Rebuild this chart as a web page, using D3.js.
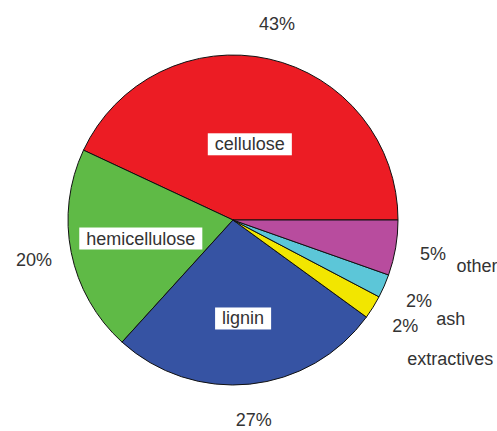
<!DOCTYPE html>
<html>
<head>
<meta charset="utf-8">
<script src="https://cdn.jsdelivr.net/npm/d3@7"></script>
<style>
  body { margin: 0; background: #fff; }
  svg { display: block; }
  text { font-family: "Liberation Sans", Arial, sans-serif; font-size: 18px; fill: #333; }
</style>
</head>
<body>
<svg id="chart" width="497" height="431"></svg>
<script>
// Datos del gráfico (composición en %)
const categorias = ["cellulose", "hemicellulose", "lignin", "extractives", "ash", "other"];
const valores = [43, 20.2, 26.7, 2.3, 2.3, 5.4];
const colores = ["#ec1c24", "#5fba46", "#3653a3", "#f2e600", "#5cc6d8", "#b84c9e"];

const width = 497, height = 431;
const R = 165;
const cx = 233, cy = 220;
const svg = d3.select("#chart");

const g = svg.append("g").attr("transform", `translate(${cx},${cy})`);

// Empieza a las 3 en punto y gira en sentido antihorario
const pie = d3.pie()
    .sort(null)
    .startAngle(Math.PI / 2)
    .endAngle(Math.PI / 2 - 2 * Math.PI);

const datos = categorias.map((c, i) => ({ nombre: c, valor: valores[i], color: colores[i] }));
const arcos = pie.value(d => d.valor)(datos);
const total = d3.sum(valores);

const arc = d3.arc().innerRadius(0).outerRadius(R);

g.selectAll("path.slice")
    .data(arcos)
    .join("path")
    .attr("class", "slice")
    .attr("d", arc)
    .attr("fill", d => d.data.color)
    .attr("stroke", "#111")
    .attr("stroke-width", 1);

// punto en el radio r sobre el ángulo medio del sector
function punto(d, r) {
    const a = (d.startAngle + d.endAngle) / 2;
    return [r * Math.sin(a), -r * Math.cos(a)];
}

// Etiquetas de porcentaje por fuera
g.selectAll("text.pct")
    .data(arcos)
    .join("text")
    .attr("class", "pct")
    .attr("text-anchor", "middle")
    .attr("dominant-baseline", "central")
    .attr("x", d => punto(d, 1.23 * R)[0])
    .attr("y", d => punto(d, 1.22 * R)[1])
    .text(d => Math.round(d.data.valor / total * 100) + "%");

// Nombres: los sectores grandes dentro con caja blanca, los pequeños fuera
const radioNombre = { cellulose: 0.47, hemicellulose: 0.57, lignin: 0.6, extractives: 1.55, ash: 1.44, other: 1.5 };
const grandes = arcos.filter(d => radioNombre[d.data.nombre] < 1);
const chicos = arcos.filter(d => radioNombre[d.data.nombre] >= 1);

const etiquetas = g.selectAll("g.nombre")
    .data(grandes)
    .join("g")
    .attr("class", "nombre")
    .attr("transform", d => `translate(${punto(d, radioNombre[d.data.nombre] * R)})`);

etiquetas.append("text")
    .attr("text-anchor", "middle")
    .attr("dominant-baseline", "central")
    .text(d => d.data.nombre);

etiquetas.each(function() {
    const t = d3.select(this).select("text");
    const b = t.node().getBBox();
    d3.select(this).insert("rect", "text")
        .attr("x", b.x - 7)
        .attr("y", b.y - 1)
        .attr("width", b.width + 14)
        .attr("height", b.height + 2)
        .attr("fill", "#fff");
});

g.selectAll("text.fuera")
    .data(chicos)
    .join("text")
    .attr("class", "fuera")
    .attr("text-anchor", "middle")
    .attr("dominant-baseline", "central")
    .attr("x", d => punto(d, radioNombre[d.data.nombre] * R)[0])
    .attr("y", d => punto(d, radioNombre[d.data.nombre] * R)[1] + 4)
    .text(d => d.data.nombre);
</script>
</body>
</html>
